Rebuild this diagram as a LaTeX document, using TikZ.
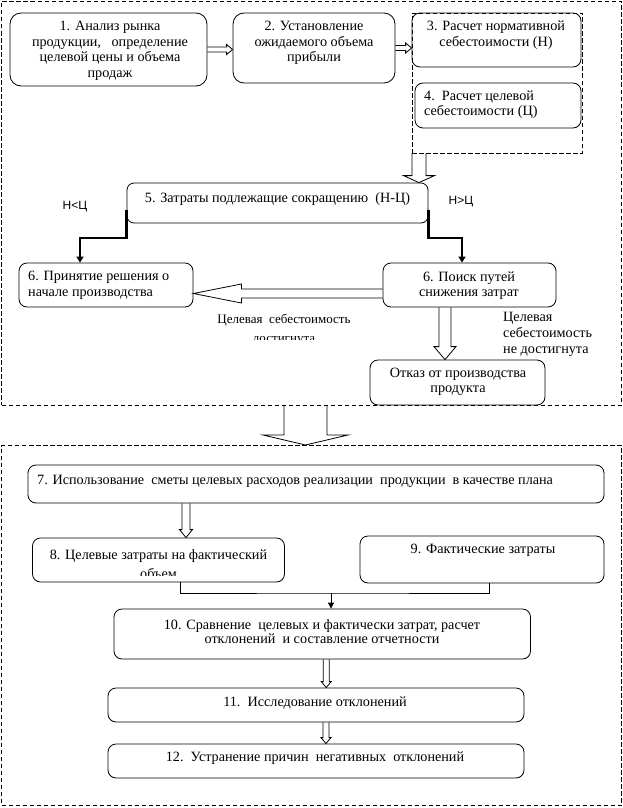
\documentclass[tikz,border=0pt]{standalone}
\usepackage{fontspec}
\setmainfont{Liberation Serif}
\newfontfamily\lsans{Liberation Sans}
\usetikzlibrary{arrows.meta,calc}
\newcommand\vblock[5]{\draw[blk] let \p1=#1, \p2=#2 in
  ({\x1-#3},\y1) -- ({\x1-#3},{\y2+#5}) -- ({\x1-#4},{\y2+#5}) -- (\x1,\y2) --
  ({\x1+#4},{\y2+#5}) -- ({\x1+#3},{\y2+#5}) -- ({\x1+#3},\y1);}
\newcommand\hblock[5]{\draw[blk] let \p1=#1, \p2=#2 in
  (\x1,{\y1+#3}) -- ({\x2-(#5)},{\y1+#3}) -- ({\x2-(#5)},{\y1+#4}) -- (\x2,\y1) --
  ({\x2-(#5)},{\y1-#4}) -- ({\x2-(#5)},{\y1-#3}) -- (\x1,{\y1-#3});}
\begin{document}
\begin{tikzpicture}[x=1pt,y=-1pt,
  box/.style={draw, line width=0.8pt, rounded corners=8pt, inner sep=0pt},
  txt/.style={inner sep=0pt, align=center, font=\fontsize{14.2}{15.5}\selectfont},
  lab/.style={inner sep=0pt, align=center, font=\fontsize{13}{18.5}\selectfont},
  sml/.style={inner sep=0pt, font=\lsans\fontsize{12}{14}\selectfont},
  framebox/.style={draw, line width=1pt, dash pattern=on 4.5pt off 2.5pt, inner sep=0pt},
  grpbox/.style={draw, line width=0.8pt, dash pattern=on 4.5pt off 2.5pt, inner sep=0pt},
  blk/.style={line width=0.8pt, line join=miter},
  thk/.style={line width=2.4pt, -{Triangle[length=6pt,width=7pt]}},
  conn/.style={line width=0.8pt}]
\useasboundingbox (0,0) rectangle (623,808);

% frames
\node[framebox, minimum width=620, minimum height=403.5] (fr1) at (311.5,203.25) {};
\node[framebox, minimum width=620, minimum height=360] (fr2) at (311.5,625.5) {};
\node[grpbox, minimum width=170, minimum height=140] (grp) at (497,83) {};

% boxes
\node[box, rounded corners=11pt, minimum width=197, minimum height=73] (b1) at (108.5,49.5) {};
\node[box, rounded corners=11pt, minimum width=162, minimum height=70] (b2) at (314,48) {};
\node[box, minimum width=169, minimum height=54] (b3) at (496.5,40) {};
\node[box, minimum width=166, minimum height=45] (b4) at (498,105.5) {};
\node[box, rounded corners=7pt, minimum width=301, minimum height=40] (b5) at (277.5,203) {};
\node[box, minimum width=174, minimum height=44] (b6a) at (106,285) {};
\node[box, minimum width=173, minimum height=44] (b6b) at (469.5,285) {};
\node[box, minimum width=175, minimum height=45] (botk) at (457.5,382.5) {};
\node[box, minimum width=576, minimum height=38] (b7) at (316,484) {};
\node[box, minimum width=252, minimum height=44] (b8) at (158.5,560) {};
\node[box, minimum width=244, minimum height=47] (b9) at (482,559.5) {};
\node[box, minimum width=416.5, minimum height=50] (b10) at (322.25,634) {};
\node[box, minimum width=416, minimum height=34] (b11) at (316,705) {};
\node[box, minimum width=416, minimum height=34] (b12) at (316,761) {};

% texts
\node[txt] (t1) at (110,51) {1. Анализ рынка\\продукции,\ \ \ определение\\целевой цены и объема\\продаж};
\node[txt] (t2) at (314,43) {2. Установление\\ожидаемого объема\\прибыли};
\node[txt] (t3) at (496,35) {3. Расчет нормативной\\себестоимости (Н)};
\node[txt, align=left, anchor=west] (t4) at (424,104.5) {4.\ \ Расчет целевой\\себестоимости (Ц)};
\node[txt] (t5) at (277.5,199) {5. Затраты подлежащие сокращению\ \ (Н-Ц)};
\node[txt, align=left, anchor=west] (t6a) at (28,285.5) {6. Принятие решения о\\начале производства};
\node[txt] (t6b) at (469,285.5) {6. Поиск путей\\снижения затрат};
\node[txt] (totk) at (458,382) {Отказ от производства\\продукта};
\node[txt, anchor=west] (t7) at (37,481) {7. Использование\ \ сметы целевых расходов реализации\ \ продукции\ \ в качестве плана};
\node[txt] (t9) at (483,550) {9. Фактические затраты};
\node[txt, font=\fontsize{14.2}{14}\selectfont] (t10) at (322,631.5) {10. Сравнение\ \ целевых и фактически затрат, расчет\\отклонений\ \ и составление отчетности};
\node[txt] (t11) at (315,703) {11.\ \ Исследование отклонений};
\node[txt] (t12) at (315,758.5) {12.\ \ Устранение причин\ \ негативных\ \ отклонений};
\begin{scope}
  \clip (35,540) rectangle (282,575);
  \node[txt, font=\fontsize{14.2}{19}\selectfont] (t8) at (158.5,564.5) {8. Целевые затраты на фактический\\объем};
\end{scope}
\begin{scope}
  \clip (200,305) rectangle (380,339.5);
  \node[lab] (l1) at (284,329.5) {Целевая\ \ себестоимость\\достигнута};
\end{scope}
\node[txt, align=left, anchor=west, font=\fontsize{14.2}{16}\selectfont] (l2) at (503,334) {Целевая\\себестоимость\\не достигнута};
\node[sml] (lnc) at (75,207) {Н<Ц};
\node[sml] (lnc2) at (461,202) {Н>Ц};

% block arrows
\hblock{(b1.east)}{(b2.west)}{2.5pt}{5pt}{6pt}
\hblock{(b2.east)}{(b3.west)}{2.5pt}{5pt}{6pt}
\vblock{([xshift=-78pt]grp.south)}{(b5.north)}{7pt}{15.5pt}{7pt}
\hblock{([yshift=-8.5pt]b6b.west)}{(b6a.east)}{4.5pt}{9.5pt}{-48pt}
\vblock{([xshift=-24.5pt]b6b.south)}{(botk.north)}{6pt}{11pt}{13pt}
\vblock{([xshift=-6pt]fr1.south)}{(fr2.north)}{21.5pt}{42.5pt}{10pt}
\vblock{([xshift=-130pt]b7.south)}{(b8.north)}{4pt}{6.5pt}{8pt}
\vblock{([xshift=4pt]b10.south)}{(b11.north)}{3pt}{5pt}{6pt}
\vblock{([xshift=10pt]b11.south)}{(b12.north)}{3pt}{5pt}{6pt}

% thick connectors
\draw[thk] ([yshift=-7pt]b5.west) -- ++(0,28) -| ([xshift=-26pt]b6a.north);
\draw[thk] ([yshift=-7pt]b5.east) -- ++(0,28) -| ([xshift=-7.5pt]b6b.north);

% thin connectors
\coordinate (j) at (331,593);
\draw[conn] ([xshift=21.5pt]b8.south) |- (j) -| ([xshift=7pt]b9.south);
\draw[conn, -{Triangle[length=6pt,width=6pt]}] (j) -- (j |- b10.north);
\end{tikzpicture}
\end{document}
